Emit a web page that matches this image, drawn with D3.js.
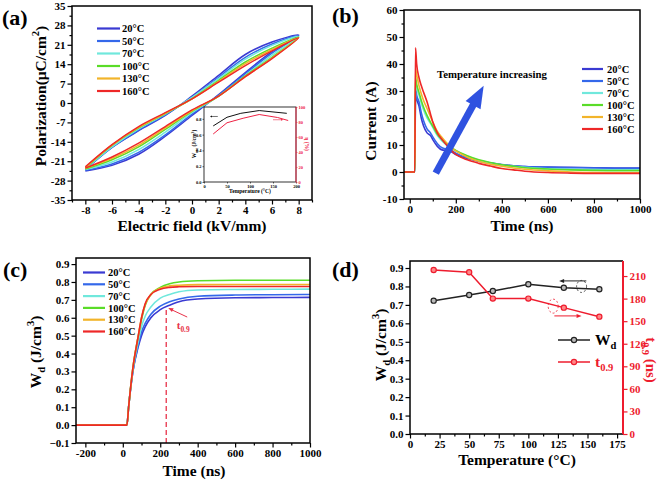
<!DOCTYPE html>
<html><head><meta charset="utf-8">
<script src="https://cdn.jsdelivr.net/npm/d3@7"></script>
<style>
body{margin:0;background:#fff}
svg{display:block}
text{font-family:"Liberation Serif","Times New Roman",serif;font-weight:bold}
</style></head>
<body><svg id="chart" width="661" height="483"></svg>
<script>
// ---------- shared ----------
const temps = ["20°C","50°C","70°C","100°C","130°C","160°C"];
const colors = ["#3a3ad2","#3468ea","#70e8dc","#5adc28","#f2b42a","#ee2828"];

// ---------- (a) P-E loops ----------
const fieldUp = [8,6,4,2,0,-2,-4,-6,-8];
const fieldLo = [-8,-6,-4,-2,0,2,4,6,8];
const polUp20 = [24.5,22,17.5,10,2.5,-4.5,-10,-16,-24];
const polLo20 = [-24.5,-22.5,-18.5,-12,-4.5,3,11,18.5,24.5];
const polUp50 = [24.3,21.3,16.5,9.3,2,-4.3,-9.8,-16,-24];
const polLo50 = [-24.3,-22,-17.8,-11.5,-4,2.8,10.5,18,24.3];
const polUp70 = [24,20.8,15.8,8.8,2,-4,-9.3,-15.8,-23.8];
const polLo70 = [-24,-21.3,-16.8,-10.5,-3.5,2.5,10,17.3,24];
const polUp100 = [23.8,19.8,14.8,8.2,1.5,-3.8,-9,-15.3,-23.5];
const polLo100 = [-23.8,-20.5,-15.8,-9.5,-3,2.5,9.8,16.5,23.8];
const polUp130 = [23.6,19.3,14.2,7.8,1.5,-3.7,-8.8,-15.2,-23.3];
const polLo130 = [-23.6,-20,-15.2,-9,-2.8,2.5,9.5,16.2,23.6];
const polUp160 = [23.5,18.8,13.5,7.5,1.5,-3.5,-8.5,-15,-23];
const polLo160 = [-23.5,-19.5,-14.5,-8.5,-2.5,2.5,9.5,16,23.5];
const aTicksX = [-8,-6,-4,-2,0,2,4,6,8];
const aTicksY = [-35,-28,-21,-14,-7,0,7,14,21,28,35];
// inset
const insetT = [20,50,80,120,180];
const insetW = [0.71,0.82,0.87,0.905,0.87];
const insetTe = [20,50,85,120,160,183];
const insetEta = [64,79,85,90,86,82];

// ---------- (b) current ----------
const timeB = [-25,22,25,30,40,50,60,75,90,100,120,140,160,180,200,250,300,350,400,450,500,600,700,800,900,1000];
const cur20 = [0,0,29.5,27,24.5,20,17,14.5,13.5,12,9.5,8.2,8,7.5,6.5,5,4,3.2,2.7,2.3,2,1.8,1.7,1.6,1.5,1.5];
const cur50 = [0,0,31.5,28.5,26,22,19,16,14.5,13,10.5,9,8.5,8,7,5.3,4.2,3.4,2.8,2.3,2,1.7,1.6,1.5,1.4,1.4];
const cur70 = [0,0,33,31,28.5,25.5,23,20,18,16.5,13.5,11.5,10,8.8,7.8,5.8,4.3,3.3,2.6,2.1,1.7,1.2,1,0.9,0.8,0.8];
const cur100 = [0,0,35,32.5,29.5,26.5,24,21,18.5,17,14,12,10.3,9,8,6,4.5,3.5,2.7,2.1,1.6,1.1,0.8,0.6,0.5,0.5];
const cur130 = [0,0,38,36,32,29,26.5,23.5,20.5,18.5,15,12.8,10.8,9,7.8,5.5,4,2.9,2.1,1.5,1,0.4,0,-0.2,-0.3,-0.3];
const cur160 = [0,0,46,40,35,32,29.5,26,21.5,18.5,14.5,12,10,8,6.5,4.5,3.2,2.2,1.3,0.8,0.3,-0.2,-0.4,-0.5,-0.5,-0.5];
const bTicksX = [0,200,400,600,800,1000];
const bTicksY = [-10,0,10,20,30,40,50,60];

// ---------- (c) discharged energy ----------
const timeC = [-250,22,31,54,83,100,120,150,200,250,300,400,600,800,1000];
const wd20 = [0,0,0.1,0.3,0.44,0.50,0.55,0.60,0.645,0.67,0.69,0.705,0.712,0.713,0.714];
const wd50 = [0,0,0.1,0.3,0.45,0.52,0.57,0.62,0.665,0.69,0.705,0.72,0.727,0.729,0.73];
const wd70 = [0,0,0.1,0.31,0.47,0.55,0.61,0.66,0.71,0.73,0.745,0.755,0.758,0.759,0.76];
const wd100 = [0,0,0.1,0.32,0.5,0.59,0.67,0.73,0.77,0.79,0.80,0.807,0.81,0.81,0.81];
const wd130 = [0,0,0.1,0.32,0.5,0.6,0.675,0.73,0.765,0.778,0.782,0.785,0.786,0.786,0.786];
const wd160 = [0,0,0.1,0.32,0.5,0.6,0.68,0.73,0.76,0.77,0.773,0.775,0.775,0.775,0.775];
const cTicksX = [-200,0,200,400,600,800,1000];
const cTicksY = [-0.1,0,0.1,0.2,0.3,0.4,0.5,0.6,0.7,0.8,0.9];
const t09mark = 232;

// ---------- (d) summary ----------
const tempD = [20,50,70,100,130,160];
const wdD = [0.723,0.754,0.775,0.812,0.793,0.785];
const t09D = [218,215,180,180,168,156];
const dTicksX = [0,25,50,75,100,125,150,175];
const dTicksYL = [0,0.1,0.2,0.3,0.4,0.5,0.6,0.7,0.8,0.9];
const dTicksYR = [0,30,60,90,120,150,180,210];

// ================= drawing =================
const svg = d3.select("#chart");
const fmt = v => String(+v.toFixed(2)).replace("−","-");

function axis(g, scale, orient, pos, major, minor, o = {}) {
  const color = o.color || "#000";
  const fs = o.fs || 11;
  const mk = orient === "bottom" ? d3.axisBottom : orient === "left" ? d3.axisLeft : d3.axisRight;
  const tr = orient === "bottom" ? `translate(0,${pos})` : `translate(${pos},0)`;
  if (minor) {
    const m = g.append("g").attr("transform", tr)
      .call(mk(scale).tickValues(minor).tickSize(o.minSize || 2.5).tickFormat(""));
    m.select(".domain").remove();
    m.selectAll("line").attr("stroke", color).attr("stroke-width", o.tw || 1.2);
  }
  const a = g.append("g").attr("transform", tr)
    .call(mk(scale).tickValues(major).tickSize(o.size || 4.5).tickPadding(o.pad || 2).tickFormat(o.format || fmt));
  a.select(".domain").remove();
  a.selectAll("line").attr("stroke", color).attr("stroke-width", o.tw || 1.2);
  a.selectAll("text").attr("font-size", fs).attr("font-family", '"Liberation Serif",serif')
    .attr("font-weight", "bold").attr("fill", color);
  return a;
}
function frame(g, x0, y0, x1, y1, w = 1.5) {
  g.append("rect").attr("x", x0).attr("y", y0).attr("width", x1 - x0).attr("height", y1 - y0)
    .attr("fill", "none").attr("stroke", "#000").attr("stroke-width", w);
}
function rich(sel, parts, fs) {
  parts.forEach(p => {
    const [txt, kind] = p;
    const t = sel.append("tspan").text(txt);
    if (kind === "sub") t.attr("font-size", fs * 0.68).attr("dy", fs * 0.28);
    else if (kind === "sup") t.attr("font-size", fs * 0.68).attr("dy", -fs * 0.42);
    else if (kind === "after-sub") t.attr("dy", -fs * 0.28);
    else if (kind === "after-sup") t.attr("dy", fs * 0.42);
  });
  return sel;
}
function label(g, x, y, txt, fs, o = {}) {
  return g.append("text").attr("x", x).attr("y", y).attr("font-size", fs)
    .attr("text-anchor", o.anchor || "start").attr("fill", o.color || "#000")
    .attr("transform", o.rot ? `rotate(${o.rot},${x},${y})` : null).text(txt);
}
function legend(g, x0, x1, tx, y0, dy, fs, w) {
  temps.forEach((t, i) => {
    const y = y0 + i * dy;
    g.append("line").attr("x1", x0).attr("x2", x1).attr("y1", y).attr("y2", y)
      .attr("stroke", colors[i]).attr("stroke-width", w);
    g.append("text").attr("x", tx).attr("y", y).attr("dy", "0.35em").attr("font-size", fs).text(t);
  });
}
function arrowHead(g, x1, y1, x2, y2, color, size, width) {
  const ang = Math.atan2(y2 - y1, x2 - x1);
  const bx = x2 - size * Math.cos(ang), by = y2 - size * Math.sin(ang);
  const px = -Math.sin(ang) * width / 2, py = Math.cos(ang) * width / 2;
  g.append("path").attr("d", `M${x2},${y2}L${bx + px},${by + py}L${bx - px},${by - py}Z`).attr("fill", color);
}

// ---------- panel (a) ----------
{
  const g = svg.append("g");
  const X0 = 72, X1 = 312, Y0 = 6, Y1 = 200;
  const x = d3.scaleLinear().domain([-9, 9]).range([X0, X1]);
  const y = d3.scaleLinear().domain([-35, 35]).range([Y1, Y0]);
  const ups = [polUp20, polUp50, polUp70, polUp100, polUp130, polUp160];
  const los = [polLo20, polLo50, polLo70, polLo100, polLo130, polLo160];
  const line = d3.line().x(d => x(d[0])).y(d => y(d[1])).curve(d3.curveCatmullRom.alpha(0.5));
  ups.forEach((u, i) => {
    const pts = fieldLo.map((e, k) => [e, los[i][k]]).concat(fieldUp.slice(1).map((e, k) => [e, u[k + 1]]));
    g.append("path").attr("d", line(pts)).attr("fill", "none").attr("stroke", colors[i]).attr("stroke-width", 1.5);
  });
  frame(g, X0, Y0, X1, Y1);
  axis(g, x, "bottom", Y1, aTicksX, [-9,-7,-5,-3,-1,1,3,5,7,9]);
  axis(g, y, "left", X0, aTicksY, d3.range(-31.5, 35, 7));
  legend(g, 97, 120, 122, 28.5, 12.5, 10.5, 2.2);
  const ty = label(g, 46, 96, "", 15.5, { anchor: "middle", rot: -90 });
  rich(ty, [["Polarization(μC/cm"], ["2", "sup"], [")", "after-sup"]], 15.5);
  label(g, 192, 231, "Electric field (kV/mm)", 15.5, { anchor: "middle" });
  label(g, 2, 25, "(a)", 22);

  // inset
  const IX0 = 204, IX1 = 296, IY0 = 107, IY1 = 182;
  g.append("rect").attr("x", IX0).attr("y", IY0).attr("width", IX1 - IX0).attr("height", IY1 - IY0).attr("fill", "#fff");
  const ix = d3.scaleLinear().domain([0, 200]).range([IX0, IX1]);
  const iyL = d3.scaleLinear().domain([0, 0.95]).range([IY1, IY0]);
  const iyR = d3.scaleLinear().domain([0, 100]).range([IY1, IY0]);
  g.append("path").attr("d", d3.line().x((d, i) => ix(insetT[i])).y(d => iyL(d))(insetW))
    .attr("fill", "none").attr("stroke", "#111").attr("stroke-width", 1);
  g.append("path").attr("d", d3.line().x((d, i) => ix(insetTe[i])).y(d => iyR(d))(insetEta))
    .attr("fill", "none").attr("stroke", "#ee2244").attr("stroke-width", 1);
  frame(g, IX0, IY0, IX1, IY1, 0.8);
  axis(g, ix, "bottom", IY1, [0, 50, 100, 150, 200], null, { fs: 4.5, size: 1.5, pad: 1, tw: 0.6 });
  axis(g, iyL, "left", IX0, [0, 0.2, 0.4, 0.6, 0.8], null, { fs: 4.5, size: 1.5, pad: 1, tw: 0.6, format: d3.format(".1f") });
  axis(g, iyR, "right", IX1, [0, 20, 40, 60, 80, 100], null, { fs: 4.5, size: 1.5, pad: 1, tw: 0.6, color: "#ee2244" });
  g.append("line").attr("x1", IX1).attr("x2", IX1).attr("y1", IY0).attr("y2", IY1).attr("stroke", "#ee2244").attr("stroke-width", 0.9);
  label(g, 250, 192.5, "Temperature (°C)", 5.5, { anchor: "middle" });
  const il = label(g, 196, 144, "", 5.5, { anchor: "middle", rot: -90 });
  rich(il, [["W"], ["rec", "sub"], [" (J/cm", "after-sub"], ["3", "sup"], [")", "after-sup"]], 5.5);
  label(g, 305, 144, "η (%)", 5.5, { anchor: "middle", rot: 90, color: "#ee2244" });
  // small arrows
  g.append("line").attr("x1", ix(30)).attr("x2", ix(15)).attr("y1", iyL(0.83)).attr("y2", iyL(0.83)).attr("stroke", "#111").attr("stroke-width", 0.6);
  arrowHead(g, ix(30), iyL(0.83), ix(13), iyL(0.83), "#111", 2, 2);
  g.append("line").attr("x1", ix(150)).attr("x2", ix(170)).attr("y1", iyR(83)).attr("y2", iyR(83)).attr("stroke", "#ee2244").attr("stroke-width", 0.6);
  arrowHead(g, ix(150), iyR(83), ix(172), iyR(83), "#ee2244", 2, 2);
}

// ---------- panel (b) ----------
{
  const g = svg.append("g");
  const X0 = 404, X1 = 640, Y0 = 10, Y1 = 199;
  const x = d3.scaleLinear().domain([-25, 1000]).range([X0, X1]);
  const y = d3.scaleLinear().domain([-10, 60]).range([Y1, Y0]);
  const series = [cur20, cur50, cur70, cur100, cur130, cur160];
  const line = d3.line().x((d, i) => x(timeB[i])).y(d => y(d)).curve(d3.curveMonotoneX);
  series.forEach((s, i) => {
    g.append("path").attr("d", line(s)).attr("fill", "none").attr("stroke", colors[i]).attr("stroke-width", 1.6);
  });
  frame(g, X0, Y0, X1, Y1);
  axis(g, x, "bottom", Y1, bTicksX, [100, 300, 500, 700, 900]);
  axis(g, y, "left", X0, bTicksY, [-5, 5, 15, 25, 35, 45, 55]);
  legend(g, 582, 603, 607, 69, 12, 10.5, 2.2);
  label(g, 376, 121, "Current (A)", 15.5, { anchor: "middle", rot: -90 });
  label(g, 522, 231, "Time (ns)", 15.5, { anchor: "middle" });
  label(g, 332, 23, "(b)", 22);
  label(g, 437, 78, "Temperature increasing", 10.8);
  // big arrow
  const ax1 = x(113), ay1 = y(-0.4), ax2 = x(321), ay2 = y(31.9);
  const ang = Math.atan2(ay2 - ay1, ax2 - ax1);
  const hl = 22;
  g.append("line").attr("x1", ax1).attr("y1", ay1)
    .attr("x2", ax2 - hl * Math.cos(ang) * 0.9).attr("y2", ay2 - hl * Math.sin(ang) * 0.9)
    .attr("stroke", "#2f52e0").attr("stroke-width", 7);
  arrowHead(g, ax1, ay1, ax2, ay2, "#2f52e0", hl, 17);
}

// ---------- panel (c) ----------
{
  const g = svg.append("g");
  const X0 = 76, X1 = 310, Y0 = 258, Y1 = 443;
  const x = d3.scaleLinear().domain([-250, 1000]).range([X0, X1]);
  const y = d3.scaleLinear().domain([-0.1, 0.934]).range([Y1, Y0]);
  const series = [wd20, wd50, wd70, wd100, wd130, wd160];
  const line = d3.line().x((d, i) => x(timeC[i])).y(d => y(d)).curve(d3.curveMonotoneX);
  series.forEach((s, i) => {
    g.append("path").attr("d", line(s)).attr("fill", "none").attr("stroke", colors[i]).attr("stroke-width", 1.6);
  });
  // t0.9 marker
  g.append("line").attr("x1", x(t09mark)).attr("x2", x(t09mark)).attr("y1", y(-0.1)).attr("y2", y(0.655))
    .attr("stroke", "#e8334a").attr("stroke-width", 1.3).attr("stroke-dasharray", "5,3");
  g.append("line").attr("x1", x(344)).attr("y1", y(0.604)).attr("x2", x(250)).attr("y2", y(0.65))
    .attr("stroke", "#e8334a").attr("stroke-width", 1);
  arrowHead(g, x(344), y(0.604), x(243), y(0.655), "#e8334a", 5, 4);
  const tl = label(g, x(288), y(0.537), "", 11, { color: "#e8334a" });
  rich(tl, [["t"], ["0.9", "sub"]], 11);
  frame(g, X0, Y0, X1, Y1);
  axis(g, x, "bottom", Y1, cTicksX, [-100, 100, 300, 500, 700, 900]);
  axis(g, y, "left", X0, cTicksY, null, { format: d3.format(".1f") });
  legend(g, 83, 105, 108, 272.5, 11.8, 10.5, 2.2);
  const ty = label(g, 41, 352, "", 15.5, { anchor: "middle", rot: -90 });
  rich(ty, [["W"], ["d", "sub"], [" (J/cm", "after-sub"], ["3", "sup"], [")", "after-sup"]], 15.5);
  label(g, 194, 476, "Time (ns)", 15.5, { anchor: "middle" });
  label(g, 3, 277, "(c)", 22);
}

// ---------- panel (d) ----------
{
  const g = svg.append("g");
  const X0 = 410, X1 = 623, Y0 = 261, Y1 = 434;
  const red = "#ee1c2e";
  const x = d3.scaleLinear().domain([0, 180]).range([X0, X1]);
  const yL = d3.scaleLinear().domain([0, 0.938]).range([Y1, Y0]);
  const yR = d3.scaleLinear().domain([0, 230]).range([Y1, Y0]);
  g.append("path").attr("d", d3.line().x((d, i) => x(tempD[i])).y(d => yL(d))(wdD))
    .attr("fill", "none").attr("stroke", "#222").attr("stroke-width", 1.5);
  g.append("path").attr("d", d3.line().x((d, i) => x(tempD[i])).y(d => yR(d))(t09D))
    .attr("fill", "none").attr("stroke", red).attr("stroke-width", 1.5);
  g.selectAll(".mk").data(wdD).enter().append("circle").attr("cx", (d, i) => x(tempD[i])).attr("cy", d => yL(d))
    .attr("r", 2.6).attr("fill", "#bbb").attr("stroke", "#222").attr("stroke-width", 1.2);
  g.selectAll(".mr").data(t09D).enter().append("circle").attr("cx", (d, i) => x(tempD[i])).attr("cy", d => yR(d))
    .attr("r", 2.6).attr("fill", "#f88").attr("stroke", red).attr("stroke-width", 1.2);
  // frame: black left/top/bottom, red right
  g.append("path").attr("d", `M${X1},${Y0}H${X0}V${Y1}H${X1}`).attr("fill", "none").attr("stroke", "#000").attr("stroke-width", 1.5);
  g.append("line").attr("x1", X1).attr("x2", X1).attr("y1", Y0).attr("y2", Y1).attr("stroke", red).attr("stroke-width", 2);
  axis(g, x, "bottom", Y1, dTicksX, [12.5, 37.5, 62.5, 87.5, 112.5, 137.5, 162.5]);
  axis(g, yL, "left", X0, dTicksYL, null, { format: d3.format(".1f") });
  axis(g, yR, "right", X1, dTicksYR, null, { color: red });
  // annotation arrows
  g.append("line").attr("x1", x(149)).attr("x2", x(130)).attr("y1", yL(0.83)).attr("y2", yL(0.83)).attr("stroke", "#222").attr("stroke-width", 1);
  arrowHead(g, x(149), yL(0.83), x(126), yL(0.83), "#222", 5, 4);
  g.append("ellipse").attr("cx", x(145)).attr("cy", yL(0.8)).attr("rx", 5).attr("ry", 6)
    .attr("fill", "none").attr("stroke", "#222").attr("stroke-width", 0.8).attr("stroke-dasharray", "2,2");
  g.append("line").attr("x1", x(122)).attr("x2", x(141)).attr("y1", yR(157)).attr("y2", yR(157)).attr("stroke", red).attr("stroke-width", 1);
  arrowHead(g, x(122), yR(157), x(145), yR(157), red, 5, 4);
  g.append("ellipse").attr("cx", x(121)).attr("cy", yR(170)).attr("rx", 5).attr("ry", 7)
    .attr("fill", "none").attr("stroke", red).attr("stroke-width", 0.8).attr("stroke-dasharray", "2,2");
  // legend
  g.append("line").attr("x1", 558).attr("x2", 590).attr("y1", 340).attr("y2", 340).attr("stroke", "#222").attr("stroke-width", 1.5);
  g.append("circle").attr("cx", 574).attr("cy", 340).attr("r", 2.6).attr("fill", "#bbb").attr("stroke", "#222").attr("stroke-width", 1.2);
  rich(label(g, 595, 345, "", 15.5), [["W"], ["d", "sub"]], 15.5);
  g.append("line").attr("x1", 558).attr("x2", 590).attr("y1", 362).attr("y2", 362).attr("stroke", red).attr("stroke-width", 1.5);
  g.append("circle").attr("cx", 574).attr("cy", 362).attr("r", 2.6).attr("fill", "#f88").attr("stroke", red).attr("stroke-width", 1.2);
  rich(label(g, 595, 367, "", 15.5, { color: red }), [["t"], ["0.9", "sub"]], 15.5);
  const ty = label(g, 386, 345, "", 15.5, { anchor: "middle", rot: -90 });
  rich(ty, [["W"], ["d", "sub"], [" (J/cm", "after-sub"], ["3", "sup"], [")", "after-sup"]], 15.5);
  const tr = label(g, 646, 360, "", 15, { anchor: "middle", rot: 90, color: red });
  rich(tr, [["t"], ["0.9", "sub"], [" (ns)", "after-sub"]], 15);
  label(g, 517, 465, "Temperature (°C)", 15.5, { anchor: "middle" });
  label(g, 332, 277, "(d)", 22);
}
</script></body></html>
